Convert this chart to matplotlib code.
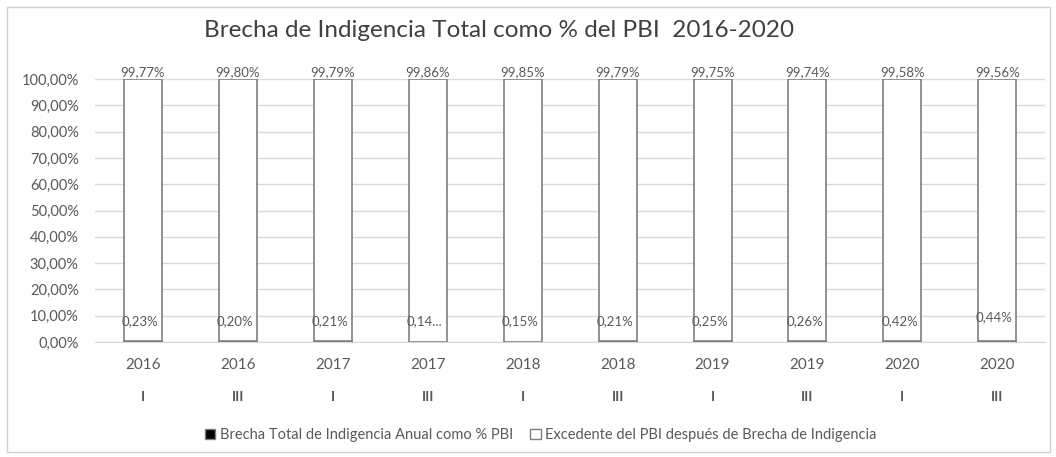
import numpy as np
import matplotlib

matplotlib.use("Agg")
import matplotlib.pyplot as plt
from matplotlib.patches import Rectangle

plt.rcParams["font.family"] = ["Lato", "DejaVu Sans"]

# data
years = ["2016", "2016", "2017", "2017", "2018", "2018", "2019", "2019", "2020", "2020"]
semesters = ["I", "III", "I", "III", "I", "III", "I", "III", "I", "III"]
brecha = [0.23, 0.20, 0.21, 0.14, 0.15, 0.21, 0.25, 0.26, 0.42, 0.44]
excedente = [99.77, 99.80, 99.79, 99.86, 99.85, 99.79, 99.75, 99.74, 99.58, 99.56]
brecha_labels = ["0,23%", "0,20%", "0,21%", "0,14...", "0,15%",
                 "0,21%", "0,25%", "0,26%", "0,42%", "0,44%"]

TXT = "#595959"
EDGE = "#7f7f7f"

fig = plt.figure(figsize=(10.56, 4.57), dpi=100)
fig.patches.append(Rectangle((0.007, 0.01), 0.987, 0.975, transform=fig.transFigure,
                             fill=False, edgecolor="#d0d0d0", lw=1))
ax = fig.add_axes([0.0904, 0.2516, 0.899, 0.5755])

x = np.arange(len(years))
w = 0.4
ax.bar(x, brecha, w, color="black", edgecolor=EDGE, lw=1.2, zorder=3)
ax.bar(x, excedente, w, bottom=brecha, color="white", edgecolor=EDGE, lw=1.2, zorder=3)

for i in x:
    ax.text(i, 100.3, f"{excedente[i]:.2f}%".replace(".", ","), ha="center", va="bottom",
            fontsize=9.5, color=TXT, zorder=4)
    yb = 9.5 if i == 9 else 8.0
    ax.text(i - 0.03, yb, brecha_labels[i], ha="center", va="center",
            fontsize=9.5, color=TXT, zorder=4)

ax.set_xlim(-0.5, len(years) - 0.5)
ax.set_ylim(0, 100)
ax.set_yticks(np.arange(0, 101, 10))
ax.set_yticklabels([f"{v},00%" for v in range(0, 101, 10)], fontsize=10.5, color=TXT)
ax.yaxis.grid(True, color="#d9d9d9", lw=1, zorder=0)
ax.set_xticks(x)
ax.set_xticklabels([])
ax.tick_params(axis="y", length=0, pad=12)
ax.tick_params(axis="x", length=0)
for s in ["top", "right", "left"]:
    ax.spines[s].set_visible(False)
ax.spines["bottom"].set_color("#d9d9d9")

trans = ax.get_xaxis_transform()
for i in x:
    ax.text(i, -0.087, years[i], transform=trans, ha="center", va="center",
            fontsize=11, color=TXT)
    ax.text(i, -0.209, semesters[i], transform=trans, ha="center", va="center",
            fontsize=10, fontweight="bold", color=TXT)

fig.text(0.473, 0.933, "Brecha de Indigencia Total como % del PBI  2016-2020",
         ha="center", va="center", fontsize=17.5, color="#404040")

handles = [Rectangle((0, 0), 1, 1, facecolor="black", edgecolor=EDGE),
           Rectangle((0, 0), 1, 1, facecolor="white", edgecolor=EDGE)]
fig.legend(handles, ["Brecha Total de Indigencia Anual como % PBI",
                     "Excedente del PBI después de Brecha de Indigencia"],
           loc="center", bbox_to_anchor=(0.512, 0.048), ncol=2, frameon=False,
           fontsize=10.5, labelcolor=TXT, handlelength=0.7, handleheight=0.7,
           handletextpad=0.3, columnspacing=1.2)

fig.savefig("out.png", dpi=100)
